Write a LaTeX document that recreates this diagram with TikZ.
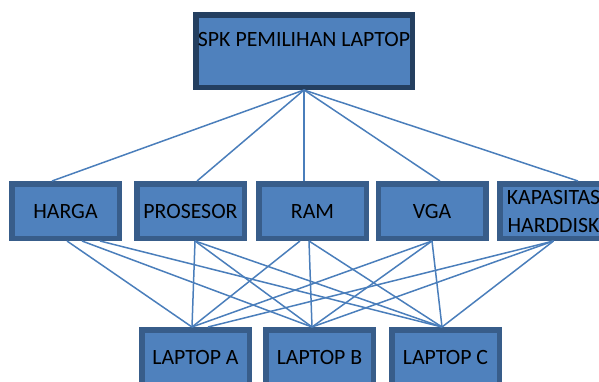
\documentclass[tikz,border=0pt]{standalone}
\usepackage{fontspec}
\setmainfont{Carlito}
\definecolor{boxfill}{HTML}{4F81BD}
\definecolor{boxline}{HTML}{385D8A}
\definecolor{topline}{HTML}{243F60}
\definecolor{linkline}{HTML}{4A7EBB}

\begin{document}
\begin{tikzpicture}[
            x=1pt, y=-1pt,
            critbox/.style={draw=boxline, line width=5.5pt, fill=boxfill,
                minimum width=107.5pt, minimum height=54.5pt, inner sep=0pt,
                align=center, font=\fontsize{21.8}{28}\selectfont},
            goalbox/.style={critbox, draw=topline, minimum width=216.5pt,
                minimum height=72.5pt, text height=15pt, text depth=24pt},
            link/.style={draw=linkline, line width=1.5pt}
        ]
            \clip (0, 0) rectangle (599, 381);

            % goal
            \node[goalbox] (spk) at (304, 51) {SPK PEMILIHAN LAPTOP};

            % criteria
            \node[critbox] (harga) at (65.5, 211) {HARGA};
            \node[critbox] (prosesor) at (190.5, 211) {PROSESOR};
            \node[critbox] (ram) at (312.5, 211) {RAM};
            \node[critbox] (vga) at (432, 211) {VGA};
            \node[critbox] (kapasitas) at (553.5, 211) {KAPASITAS\\HARDDISK};

            % alternatives
            \node[critbox] (lapA) at (195.5, 357) {LAPTOP A};
            \node[critbox] (lapB) at (319.5, 357) {LAPTOP B};
            \node[critbox] (lapC) at (445.5, 357) {LAPTOP C};

            % goal to criteria
            \foreach \m/\s in {harga/-13.5, prosesor/6.5, ram/-8.5, vga/8, kapasitas/24.5} {
                \draw[link] (spk.south) -- ([xshift=\s pt]\m.north);
            }

            % criteria to alternatives
            \foreach \m/\ms/\l/\ls in {
                    harga/1.5/lapA/-3.5, harga/16.5/lapB/-7.5, harga/34.5/lapC/-3.5,
                    prosesor/4.5/lapA/-3.5, prosesor/4.5/lapB/-7.5, prosesor/4.5/lapC/-3.5,
                    ram/-12.5/lapA/-3.5, ram/-3.5/lapB/-7.5, ram/-3.5/lapC/-3.5,
                    vga/0/lapA/-3.5, vga/0/lapB/-7.5, vga/0/lapC/-3.5,
                    kapasitas/0/lapA/12.5, kapasitas/0/lapB/-7.5, kapasitas/0/lapC/-3.5} {
                \draw[link] ([xshift=\ms pt]\m.south) -- ([xshift=\ls pt]\l.north);
            }
        \end{tikzpicture}
\end{document}
